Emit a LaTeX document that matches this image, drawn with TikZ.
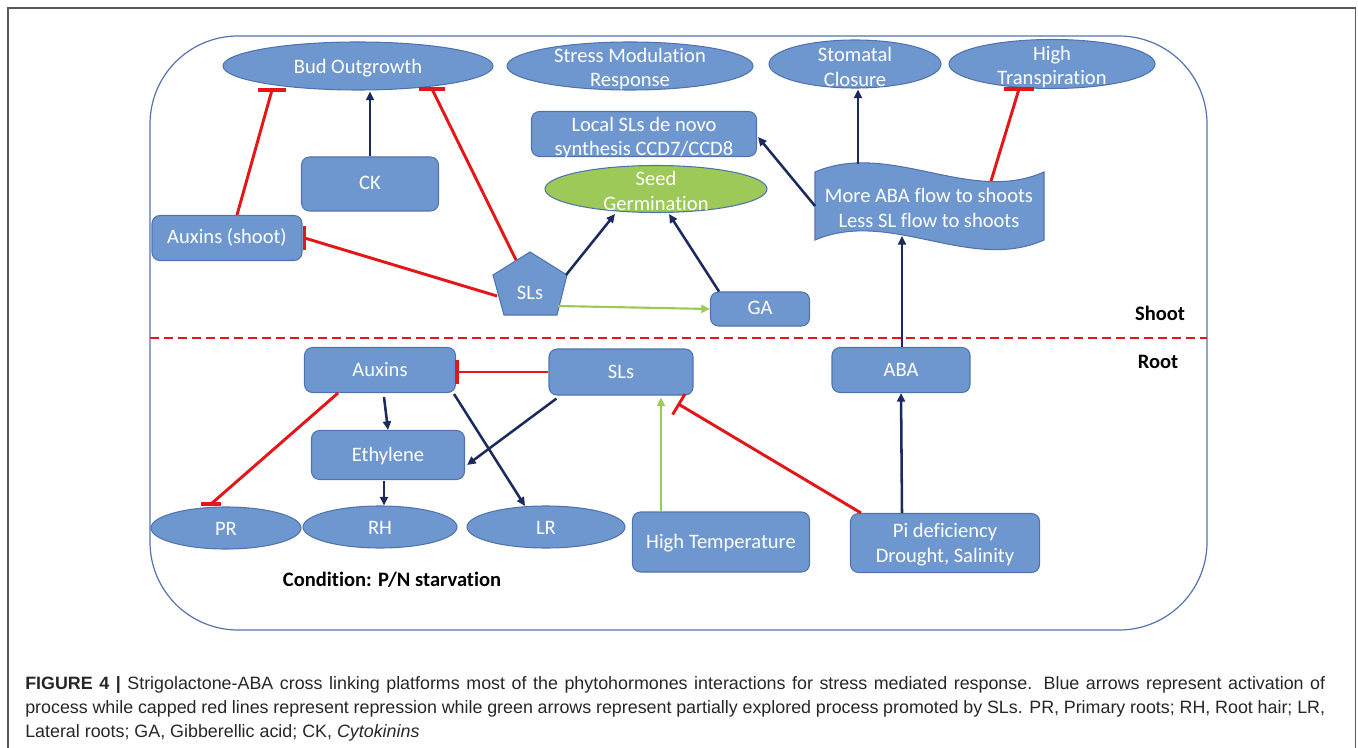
\documentclass[tikz,border=0pt]{standalone}
\usepackage{fontspec}
\setmainfont{Carlito}[Ligatures=NoCommon]
\newfontfamily\capfont{Liberation Sans}
\usetikzlibrary{shapes.geometric,arrows.meta,calc}
\definecolor{boxblue}{RGB}{111,151,207}
\definecolor{boxedge}{RGB}{80,115,175}
\definecolor{navy}{RGB}{28,42,94}
\definecolor{redc}{RGB}{228,22,24}
\definecolor{greenc}{RGB}{155,202,85}
\definecolor{seedfill}{RGB}{156,201,87}
\definecolor{framec}{RGB}{85,115,170}
\newcommand\boxfont{\fontsize{15.4}{18.6}\selectfont}
\newcommand\capsize{\fontsize{13.4}{18.2}\selectfont}
\tikzset{
 box/.style={draw=boxedge, line width=0.8pt, fill=boxblue, rounded corners=6pt, inner sep=0pt, text=white, font=\boxfont, text height=9pt, text depth=0pt},
 ell/.style={ellipse, draw=boxedge, line width=0.8pt, fill=boxblue, inner sep=0pt},
 txt/.style={text=white, font=\boxfont, align=center, inner sep=0pt},
 lbl/.style={text=black, font=\boxfont\bfseries, inner sep=0pt},
 wh/.style 2 args={minimum width=#1*0.75pt, minimum height=#2*0.75pt},
 act/.style={draw=navy, line width=1.9pt, -{Triangle[length=6.5pt,width=6pt]}},
 rep/.style={draw=redc, line width=2.2pt},
 repbar/.style={draw=redc, line width=2.8pt},
 part/.style={draw=greenc, line width=1.6pt, -{Triangle[length=6.5pt,width=6pt]}},
}
\begin{document}
\begin{tikzpicture}[x=0.75pt,y=-0.75pt]
\useasboundingbox (0,0) rectangle (1358,748);
% outer image border
\draw[black!65, line width=0.9pt] (8,748) -- (8,8) -- (1355.5,8) -- (1355.5,748);
% big rounded frame
\draw[framec, line width=0.9pt, rounded corners=66pt] (150,36) rectangle (1207,630);
% shoot/root divider
\draw[redc, line width=1.6pt, dash pattern=on 6.5pt off 4pt] (150,338) -- (1207,338);
\node[lbl] (shootL) at (1160,313) {Shoot};
\node[lbl] (rootL) at (1158,362) {Root};

% ---------- shoot ----------
\node[ell, wh={270}{48}] (bud) at (358,66) {};
\node[txt] (budT) at (358,68) {Bud Outgrowth};
\node[ell, wh={246}{48}] (stress) at (630,66) {};
\node[txt] (stressT) at (630,69) {Stress Modulation\\Response};
\node[ell, wh={172}{48}] (stom) at (855,64) {};
\node[txt] (stomT) at (855,67) {Stomatal\\Closure};
\node[ell, wh={206}{49}] (htr) at (1052,64) {};
\node[txt] (htrT) at (1052,67) {High\\Transpiration};
\node[box, wh={225}{45}] (local) at (644,134) {};
\node[txt] (localT) at (644,138) {Local SLs de novo\\synthesis CCD7/CCD8};
\node[ell, wh={222}{47}, fill=seedfill] (seed) at (656,189) {};
\node[txt] (seedT) at (656,191) {Seed\\Germination};
\node[box, wh={137}{54}] (ck) at (370,184) {CK};
\node[box, wh={150}{45}] (auxs) at (227,238) {Auxins (shoot)};
\node[box, wh={99}{34}] (ga) at (760,309) {GA};
% pentagon SLs
\draw[draw=boxedge, line width=0.8pt, fill=boxblue] (530,252) -- (567,275) -- (557,315) -- (504,315) -- (493,275) -- cycle;
\node[txt] (sls1) at (530,293) {SLs};
\coordinate (pUL) at (516,260);
\coordinate (pL) at (497,296);
\coordinate (pR) at (566,275);
\coordinate (pBR) at (558,306);
% wave shape
\draw[draw=boxedge, line width=0.8pt, fill=boxblue]
  (815,172) .. controls (890,140) and (970,205) .. (1044,172) -- (1044,240)
  .. controls (970,273) and (890,208) .. (815,240) -- cycle;
\node[txt] (wave) at (929,208) {More ABA flow to shoots\\Less SL flow to shoots};
\coordinate (wL) at (815,206);
\coordinate (wT1) at (858,164);
\coordinate (wT2) at (991,181);
\coordinate (wB) at (902,236);

% ---------- root ----------
\node[box, wh={151}{45}] (aux) at (380,370) {Auxins};
\node[box, wh={144}{46}] (sls2) at (621,372) {SLs};
\node[box, wh={138}{45}] (aba) at (901,370) {ABA};
\node[box, wh={153}{49}] (eth) at (388,455) {Ethylene};
\node[ell, wh={150}{42}] (pr) at (226,528) {};
\node[txt] (prT) at (226,529) {PR};
\node[ell, wh={154}{42}] (rh) at (380,527) {};
\node[txt] (rhT) at (380,528) {RH};
\node[ell, wh={158}{42}] (lr) at (546,527) {};
\node[txt] (lrT) at (546,528) {LR};
\node[box, wh={177}{60}] (htemp) at (721,542) {High Temperature};
\node[box, wh={189}{59}] (pi) at (945,543) {};
\node[txt] (piT) at (945,545) {Pi deficiency\\Drought, Salinity};
\node[lbl] (cond) at (392,580) {Condition: P/N starvation};

% shoot connectors
\coordinate (b1) at ($(bud.center)+(-86,24)$);
\draw[rep] ($(auxs.north)+(10,0)$) -- (b1);
\draw[repbar] ($(b1)+(-14,0)$) -- ($(b1)+(14,0)$);
\draw[act] (ck.north) -- ($(bud.south)+(12,1)$);
\coordinate (b2) at ($(bud.center)+(74,23)$);
\draw[rep] (pUL) -- (b2);
\draw[repbar] ($(b2)+(-13,0)$) -- ($(b2)+(13,0)$);
\coordinate (a1) at ($(auxs.east)+(2,0)$);
\draw[rep] (pL) -- (a1);
\draw[repbar] ($(a1)+(0,-12)$) -- ($(a1)+(0,12)$);
\draw[act] (pR) -- ($(seed.center)+(-41,25)$);
\draw[act] ($(ga.north)+(-41,0)$) -- ($(seed.center)+(13,25)$);
\draw[part] (pBR) -- (ga.west);
\draw[act] (wL) -- ($(local.east)+(1,3)$);
\draw[act] (wT1) -- ($(stom.south)+(3,1)$);
\coordinate (h1) at ($(htr.center)+(-33,25)$);
\draw[rep] (wT2) -- (h1);
\draw[repbar] ($(h1)+(-15,0)$) -- ($(h1)+(15,0)$);
\draw[act] ($(aba.north)+(1,0)$) -- (wB);

% root connectors
\coordinate (x1) at ($(aux.east)+(1,2)$);
\draw[rep] (sls2.west) -- (x1);
\draw[repbar] ($(x1)+(0,-12)$) -- ($(x1)+(0,12)$);
\draw[act] ($(aux.south)+(4,4)$) -- (eth.north);
\coordinate (x2) at ($(pr.center)+(-15,-24)$);
\draw[rep] ($(aux.south)+(-42,0)$) -- (x2);
\draw[repbar] ($(x2)+(-10,0)$) -- ($(x2)+(10,0)$);
\draw[act] ($(aux.south east)+(-2,1)$) -- ($(lr.center)+(-21,-21)$);
\draw[act] ($(sls2.south west)+(8,3)$) -- ($(eth.east)+(2,10)$);
\draw[act] ($(eth.south)+(-4,1)$) -- ($(rh.north)+(4,0)$);
\draw[part] ($(htemp.north)+(-60,0)$) -- ($(sls2.south)+(40,2)$);
\draw[rep, -{Bar[width=18pt]}] ($(pi.north west)+(11,0)$) -- ($(sls2.south east)+(-16,8)$);
\draw[act] ($(pi.north)+(-43,0)$) -- (aba.south);

% caption
\node[anchor=north west, inner sep=0pt, text width=1300*0.75pt, align=justify, font=\capfont\capsize, text=black!85] (cap) at (25,676)
{\textbf{FIGURE 4 |} Strigolactone-ABA cross linking platforms most of the phytohormones interactions for stress mediated response. Blue arrows represent activation of\linebreak
process while capped red lines represent repression while green arrows represent partially explored process promoted by SLs. PR, Primary roots; RH, Root hair; LR,\linebreak
Lateral roots; GA, Gibberellic acid; CK, \textit{Cytokinins}};
\end{tikzpicture}
\end{document}
